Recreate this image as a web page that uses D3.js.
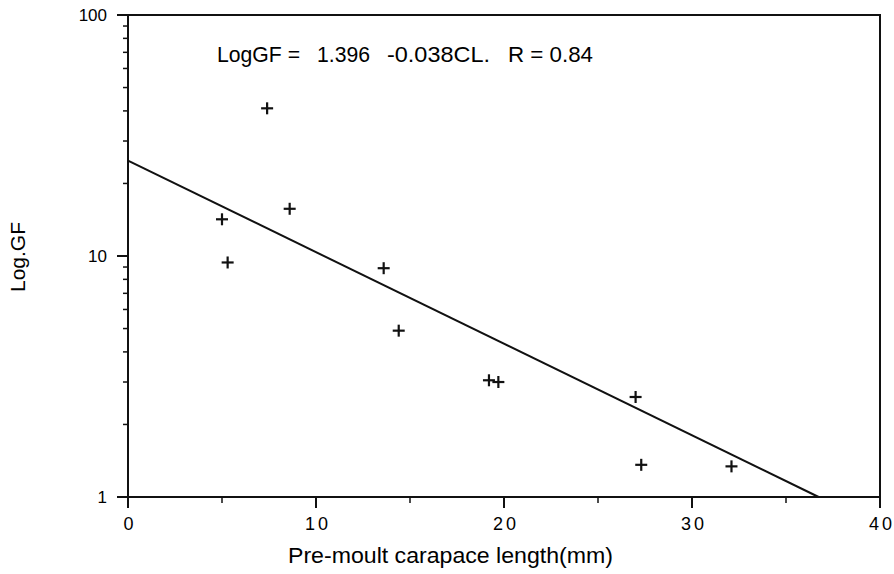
<!DOCTYPE html>
<html>
<head>
<meta charset="utf-8">
<script src="https://cdn.jsdelivr.net/npm/d3@7"></script>
<style>
  body { margin: 0; background: #fff; }
  svg { font-family: "Liberation Sans", Arial, sans-serif; }
</style>
</head>
<body>
<div id="chart"></div>
<script>
// carapace length (mm) and GF
const carapaceLength = [7.4, 5.0, 5.3, 8.6, 13.6, 14.4, 19.2, 19.7, 27.0, 27.3, 32.1];
const growthFactor   = [41, 14.2, 9.4, 15.7, 8.9, 4.9, 3.05, 3.0, 2.6, 1.36, 1.34];

// regression: log GF = 1.396 - 0.038 CL
const intercept = 1.396;
const slope = -0.038;

const xTicks = [0, 10, 20, 30, 40];
const xMinorTicks = [5, 15, 25, 35];
const yTicks = [1, 10, 100];

// equation label, in the pieces the original typesetting spaced out
const equationParts = ["LogGF =", "1.396", "-0.038CL.", "R = 0.84"];
const equationX     = [217, 317, 387, 508];
const equationLen   = [83, 53, 103, 85];

const W = 894, H = 574;
const margin = { top: 15, right: 14, bottom: 77, left: 128 };
const width = W - margin.left - margin.right;
const height = H - margin.top - margin.bottom;

const svg = d3.select("#chart").append("svg")
    .attr("width", W)
    .attr("height", H);

const g = svg.append("g")
    .attr("transform", `translate(${margin.left},${margin.top})`);

const x = d3.scaleLinear().domain([0, 40]).range([0, width]);
const y = d3.scaleLog().domain([1, 100]).range([height, 0]);

// frame
g.append("rect")
    .attr("width", width)
    .attr("height", height)
    .attr("fill", "none")
    .attr("stroke", "#111")
    .attr("stroke-width", 2);

// y minor ticks (2..9, 20..90)
const yMinor = [];
[1, 10].forEach(dec => { for (let k = 2; k <= 9; k++) yMinor.push(dec * k); });

const yAxis = g.append("g");
yAxis.selectAll("line.major").data(yTicks).enter().append("line")
    .attr("x1", -11).attr("x2", 0)
    .attr("y1", d => y(d)).attr("y2", d => y(d))
    .attr("stroke", "#111").attr("stroke-width", 2);
yAxis.selectAll("line.minor").data(yMinor).enter().append("line")
    .attr("x1", -5).attr("x2", 0)
    .attr("y1", d => y(d)).attr("y2", d => y(d))
    .attr("stroke", "#111").attr("stroke-width", 1.5);
yAxis.selectAll("text").data(yTicks).enter().append("text")
    .attr("x", -21)
    .attr("y", d => y(d))
    .attr("dy", "0.36em")
    .attr("text-anchor", "end")
    .style("font-size", "17px")
    .text(d => d);

// x ticks
const xAxis = g.append("g").attr("transform", `translate(0,${height})`);
xAxis.selectAll("line.major").data(xTicks).enter().append("line")
    .attr("x1", d => x(d)).attr("x2", d => x(d))
    .attr("y1", 0).attr("y2", 11)
    .attr("stroke", "#111").attr("stroke-width", 2);
xAxis.selectAll("line.minor").data(xMinorTicks).enter().append("line")
    .attr("x1", d => x(d)).attr("x2", d => x(d))
    .attr("y1", 0).attr("y2", 6)
    .attr("stroke", "#111").attr("stroke-width", 1.5);
xAxis.selectAll("text").data(xTicks).enter().append("text")
    .attr("x", d => x(d) + 2)
    .attr("y", 33)
    .attr("text-anchor", "middle")
    .style("font-size", "18px")
    .style("letter-spacing", "3px")
    .text(d => d);

// regression line, stopped where it meets GF = 1
const xEnd = (0 - intercept) / slope;
const line = d3.line()
    .x(d => x(d))
    .y(d => y(Math.pow(10, intercept + slope * d)));
g.append("path")
    .datum([0, xEnd])
    .attr("fill", "none")
    .attr("stroke", "#111")
    .attr("stroke-width", 2)
    .attr("d", line);

// data points as plus marks
const pts = carapaceLength.map((cl, i) => [cl, growthFactor[i]]);
const s = 6;
const marks = g.selectAll("g.pt").data(pts).enter().append("g")
    .attr("transform", d => `translate(${x(d[0])},${y(d[1])})`);
marks.append("line").attr("x1", -s).attr("x2", s).attr("y1", 0).attr("y2", 0)
    .attr("stroke", "#111").attr("stroke-width", 2.2);
marks.append("line").attr("x1", 0).attr("x2", 0).attr("y1", -s).attr("y2", s)
    .attr("stroke", "#111").attr("stroke-width", 2.2);

// equation
svg.selectAll("text.eq").data(equationParts).enter().append("text")
    .attr("class", "eq")
    .attr("x", (d, i) => equationX[i])
    .attr("y", 62)
    .attr("textLength", (d, i) => equationLen[i])
    .attr("lengthAdjust", "spacingAndGlyphs")
    .style("font-size", "22px")
    .text(d => d);

// axis labels
svg.append("text")
    .attr("transform", `translate(25, 257) rotate(-90)`)
    .attr("text-anchor", "middle")
    .attr("textLength", 70)
    .attr("lengthAdjust", "spacingAndGlyphs")
    .style("font-size", "20px")
    .text("Log.GF");

svg.append("text")
    .attr("x", 288)
    .attr("y", 563)
    .attr("textLength", 325)
    .attr("lengthAdjust", "spacingAndGlyphs")
    .style("font-size", "22px")
    .text("Pre-moult carapace length(mm)");
</script>
</body>
</html>
